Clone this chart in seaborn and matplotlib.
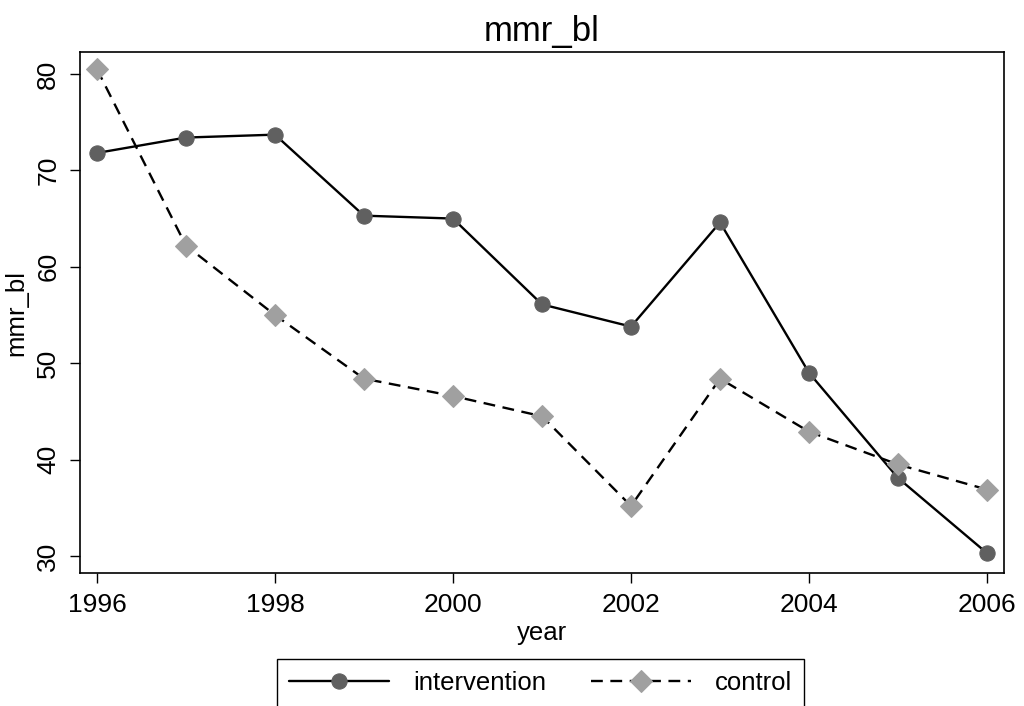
import matplotlib
matplotlib.use("Agg")
import matplotlib.pyplot as plt
from matplotlib.path import Path
import seaborn as sns
import pandas as pd

years = [1996, 1997, 1998, 1999, 2000, 2001, 2002, 2003, 2004, 2005, 2006]
intervention = [71.8, 73.4, 73.7, 65.3, 65.0, 56.1, 53.8, 64.6, 49.0, 38.1, 30.3]
control = [80.5, 62.2, 55.0, 48.4, 46.6, 44.5, 35.2, 48.4, 42.9, 39.5, 36.9]
series_names = ["intervention", "control"]
x_ticks = [1996, 1998, 2000, 2002, 2004, 2006]
y_ticks = [30, 40, 50, 60, 70, 80]

sns.set_style("ticks")
plt.rcParams['font.family'] = ['Liberation Sans', 'DejaVu Sans']
for k in ["text.color", "axes.labelcolor", "xtick.color", "ytick.color", "axes.edgecolor"]:
    plt.rcParams[k] = "black"

fig = plt.figure(figsize=(10.24, 7.06), dpi=100)
W, H = 1024, 706
ax = fig.add_axes([80 / W, 1 - 573 / H, (1004 - 80) / W, (573 - 52) / H])

df = pd.DataFrame({"year": years * 2,
                   "mmr_bl": intervention + control,
                   "group": [series_names[0]] * len(years) + [series_names[1]] * len(years)})

sns.lineplot(data=df[df.group == series_names[0]], x="year", y="mmr_bl", ax=ax,
             color="black", lw=1.7, marker="o", markersize=11,
             markerfacecolor="#606060", markeredgecolor="#606060",
             label=series_names[0])
sns.lineplot(data=df[df.group == series_names[1]], x="year", y="mmr_bl", ax=ax,
             color="black", lw=1.7, marker="D", markersize=11,
             markerfacecolor="#a0a0a0", markeredgecolor="#a0a0a0",
             label=series_names[1])
ax.lines[1].set_linestyle((0, (5.0, 3.2)))

ax.set_xlim(1995.81, 2006.19)
ax.set_ylim(28.25, 82.27)
ax.set_xticks(x_ticks)
ax.set_yticks(y_ticks)
ax.tick_params(axis="both", direction="out", length=7.2, width=1.0, labelsize=19,
               color="black", labelcolor="black", pad=7)
for lab in ax.get_yticklabels():
    lab.set_rotation(90)
    lab.set_va("center")
for s in ax.spines.values():
    s.set_visible(True)
    s.set_linewidth(1.2)
    s.set_color("black")

ax.set_xlabel("year", fontsize=18.5, labelpad=3)
ax.set_ylabel("mmr_bl", fontsize=18.5, labelpad=6)
ax.set_title("mmr_bl", fontsize=25, pad=8)

handles, labels = ax.get_legend_handles_labels()
if ax.legend_:
    ax.legend_.remove()
leg = fig.legend(handles, labels, loc="upper center",
                 bbox_to_anchor=(0.528, 1 - 659 / H), ncol=2, fontsize=18.5,
                 frameon=True, fancybox=False, edgecolor="black",
                 handlelength=3.9, handletextpad=0.93, columnspacing=1.75,
                 borderpad=0.45, borderaxespad=0)


def extended_box(x0, y0, width, height, mutation_size):
    ext = 30
    verts = [(x0, y0 - ext), (x0 + width, y0 - ext), (x0 + width, y0 + height),
             (x0, y0 + height), (x0, y0 - ext)]
    return Path(verts, closed=True)


leg.get_frame().set_boxstyle(extended_box)
leg.get_frame().set_linewidth(1.0)
leg.get_frame().set_alpha(1)

fig.savefig("out.png", dpi=100)
